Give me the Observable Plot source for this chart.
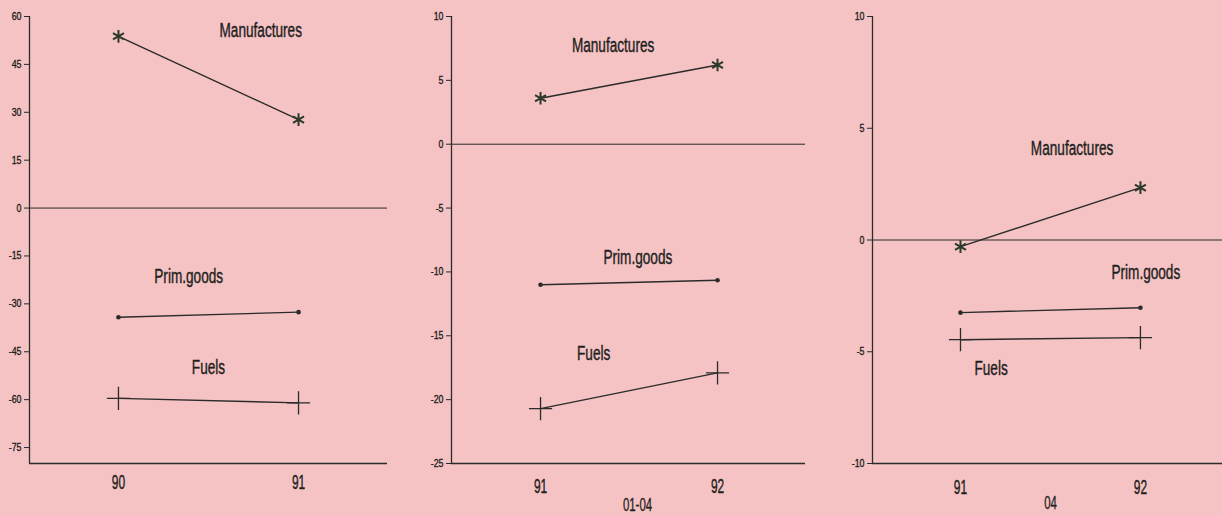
<!DOCTYPE html>
<html><head><meta charset="utf-8">
<script src="https://cdn.jsdelivr.net/npm/d3@7"></script>
<script src="https://cdn.jsdelivr.net/npm/@observablehq/plot@0.6"></script>
<style>
html,body{margin:0;padding:0;background:#f5c3c3;}
#chart{position:relative;width:1222px;height:515px;overflow:hidden;background:#f5c3c3;}
.panel{position:absolute;top:0;}
</style></head><body><div id="chart"></div>
<script>
// ---- data ----
const series = ["Manufactures", "Prim.goods", "Fuels"];
const years1 = [90, 91];
const years2 = [91, 92];
const years3 = [91, 92];
const manuf1 = [53.8, 27.7];
const prim1 = [-34.2, -32.6];
const fuels1 = [-59.6, -61.0];
const manuf2 = [3.6, 6.2];
const prim2 = [-11.0, -10.65];
const fuels2 = [-20.7, -17.9];
const manuf3 = [-0.3, 2.34];
const prim3 = [-3.25, -3.03];
const fuels3 = [-4.46, -4.37];
const yTicks1 = [60, 45, 30, 15, 0, -15, -30, -45, -60, -75];
const yTicks2 = [10, 5, 0, -5, -10, -15, -20, -25];
const yTicks3 = [10, 5, 0, -5, -10];
const xTitle2 = "01-04";
const xTitle3 = "04";
// label anchor positions (data units) for series names
const labelAt1 = [[90.79, 55.6], [90.39, -21.5], [90.5, -49.9]];
const labelAt2 = [[91.41, 7.7], [91.55, -8.9], [91.3, -16.4]];
const labelAt3 = [[91.62, 4.1], [92.03, -1.45], [91.17, -5.75]];

const INK = "#2b2b2b";
const TXT = "#1e1e1e";
const FONT = "'Liberation Sans',Arial,Helvetica,sans-serif";
// horizontal condensing factor by font size
const squeeze = {20: 0.68, 21: 0.57, 19: 0.6, 11: 0.8};

function condenseAll(svg) {
  svg.querySelectorAll("text").forEach(el => {
    if (!el.textContent) return;
    const fs = Math.round(parseFloat(getComputedStyle(el).fontSize));
    const k = squeeze[fs];
    if (!k) return;
    const len = el.getComputedTextLength();
    el.setAttribute("textLength", (len * k).toFixed(2));
    el.setAttribute("lengthAdjust", "spacingAndGlyphs");
  });
}

function panel(cfg) {
  const rows = [];
  series.forEach((s, i) => cfg.years.forEach((yr, j) => rows.push({series: s, year: yr, value: cfg.vals[i][j]})));
  const labels = series.map((s, i) => ({series: s, x: cfg.labelAt[i][0], y: cfg.labelAt[i][1]}));
  const [y0, y1] = cfg.yDomain;
  const [x0] = cfg.xDomain;
  const marks = [
    Plot.ruleY([0], {stroke: INK, strokeWidth: 1}),
    Plot.ruleY([y0], {stroke: INK, strokeWidth: 1.3}),
    Plot.ruleX([x0], {y1: y0, y2: y1, stroke: INK, strokeWidth: 1.3}),
    Plot.axisY({ticks: cfg.yTicks, tickSize: 5, tickFormat: () => "", label: null}),
    Plot.text(cfg.yTicks, {x: x0, y: d => d, text: d => String(d), dx: -8, textAnchor: "end", lineAnchor: "middle", fontSize: 11, fill: TXT, stroke: TXT, strokeWidth: 0.35}),
    Plot.text(cfg.years, {x: d => d, text: d => String(d), frameAnchor: "bottom", dy: cfg.xPad, lineAnchor: "middle", fontSize: 21, fill: TXT, stroke: TXT, strokeWidth: 0.4}),
    Plot.line(rows, {x: "year", y: "value", z: "series", stroke: INK, strokeWidth: 1.4}),
    Plot.dot(rows.filter(d => d.series === "Manufactures"), {x: "year", y: "value", symbol: "asterisk", r: 6, stroke: "#2c3a2c", strokeWidth: 2}),
    Plot.dot(rows.filter(d => d.series === "Prim.goods"), {x: "year", y: "value", r: 2.3, fill: INK, stroke: null}),
    Plot.dot(rows.filter(d => d.series === "Fuels"), {x: "year", y: "value", symbol: "plus", r: 7.5, stroke: INK, strokeWidth: 1.3}),
    Plot.text(labels, {x: "x", y: "y", text: "series", fontSize: 20, fill: TXT, stroke: TXT, strokeWidth: 0.4, textAnchor: "middle", lineAnchor: "middle"})
  ];
  if (cfg.xTitle) {
    marks.push(Plot.text([cfg.xTitle], {frameAnchor: "bottom", dy: cfg.titleDy, dx: cfg.titleDx, fontSize: 19, fill: TXT, stroke: TXT, strokeWidth: 0.35, lineAnchor: "middle"}));
  }
  const svg = Plot.plot({
    width: cfg.width, height: 515,
    marginLeft: cfg.ml, marginRight: cfg.mr, marginTop: 16, marginBottom: 52,
    x: {domain: cfg.xDomain, axis: null},
    y: {domain: cfg.yDomain},
    style: {background: "transparent", fontFamily: FONT, color: INK, overflow: "visible"},
    marks
  });
  svg.classList.add("panel");
  svg.style.left = cfg.left + "px";
  document.getElementById("chart").appendChild(svg);
  condenseAll(svg);
}

panel({left: 0, width: 400, ml: 29, mr: 13, years: years1, vals: [manuf1, prim1, fuels1],
  xDomain: [89.506, 91.494], yDomain: [-80, 60], yTicks: yTicks1, labelAt: labelAt1, xPad: 19});
panel({left: 410, width: 400, ml: 41, mr: 5, years: years2, vals: [manuf2, prim2, fuels2],
  xDomain: [90.497, 92.497], yDomain: [-25, 10], yTicks: yTicks2, labelAt: labelAt2, xPad: 23,
  xTitle: xTitle2, titleDy: 41, titleDx: 9});
panel({left: 820, width: 402, ml: 52, mr: 0, years: years3, vals: [manuf3, prim3, fuels3],
  xDomain: [90.511, 92.456], yDomain: [-10, 10], yTicks: yTicks3, labelAt: labelAt3, xPad: 24,
  xTitle: xTitle3, titleDy: 39, titleDx: 3});
</script></body></html>
